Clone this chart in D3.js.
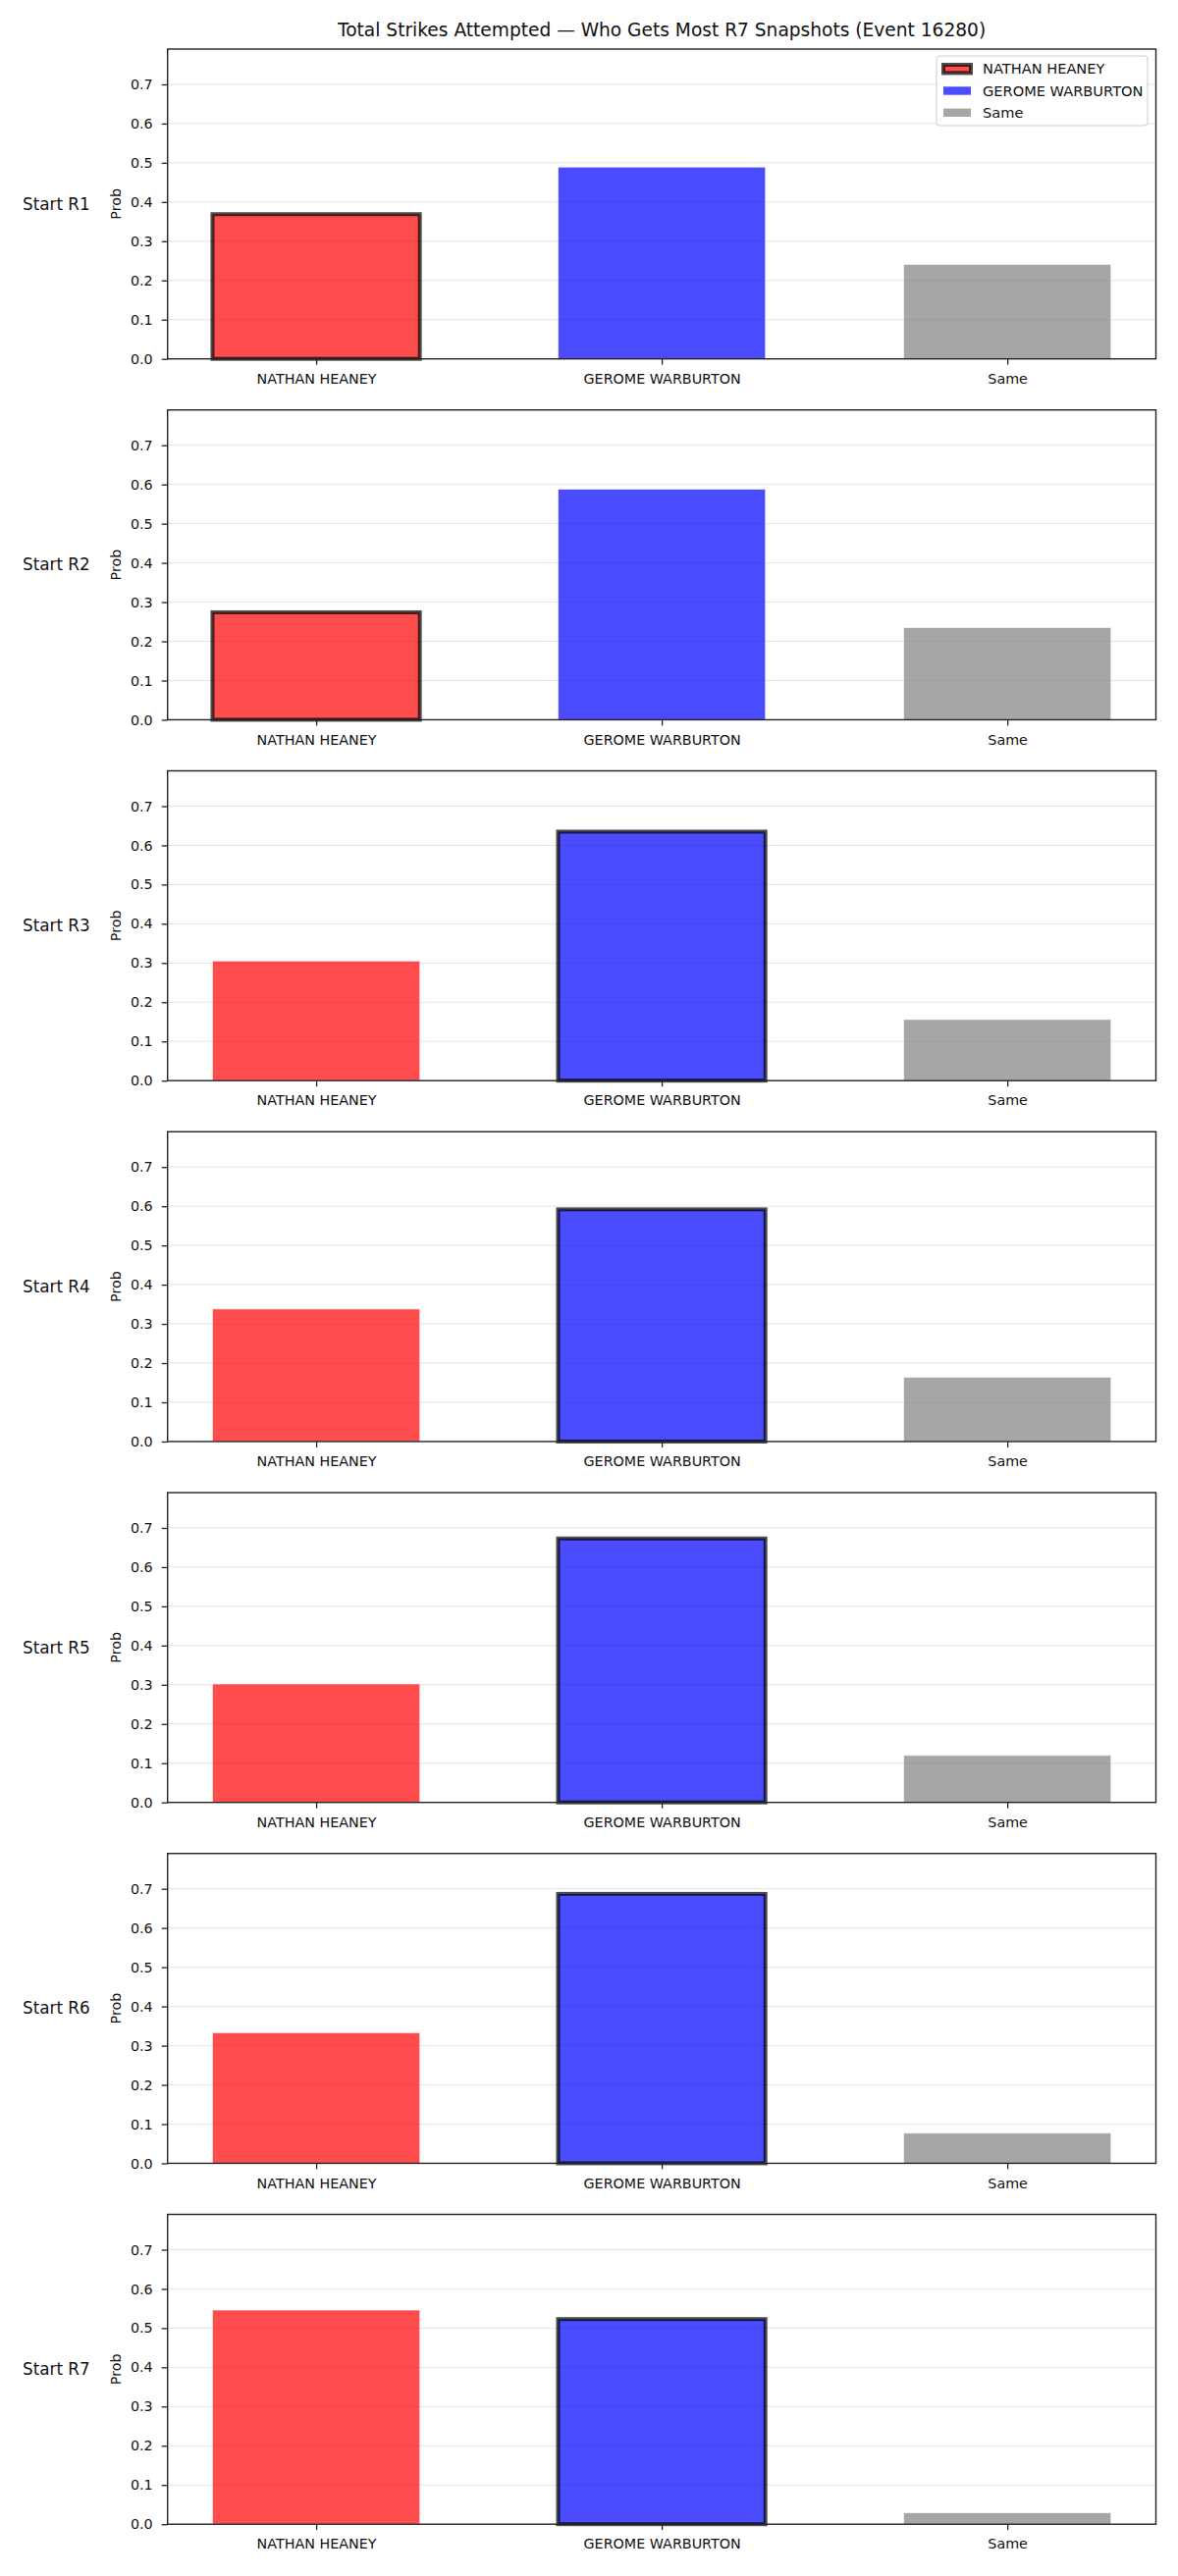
<!DOCTYPE html>
<html><head><meta charset="utf-8">
<script src="https://cdn.jsdelivr.net/npm/d3@7"></script>
<style>body{margin:0;background:#fff}svg{display:block}text{font-family:"DejaVu Sans",sans-serif;fill:#111}</style>
</head><body><svg id="chart" width="1200" height="2625"></svg>
<script>
const title = "Total Strikes Attempted — Who Gets Most R7 Snapshots (Event 16280)";
const categories = ["NATHAN HEANEY", "GEROME WARBURTON", "Same"];
const rounds = ["Start R1", "Start R2", "Start R3", "Start R4", "Start R5", "Start R6", "Start R7"];
const nathan = [0.369, 0.274, 0.305, 0.338, 0.302, 0.333, 0.546];
const gerome = [0.489, 0.588, 0.635, 0.592, 0.673, 0.687, 0.523];
const same   = [0.241, 0.235, 0.156, 0.164, 0.120, 0.077, 0.029];
const highlighted = ["NATHAN HEANEY", "NATHAN HEANEY", "GEROME WARBURTON", "GEROME WARBURTON",
                     "GEROME WARBURTON", "GEROME WARBURTON", "GEROME WARBURTON"];
const yTicks = [0.0, 0.1, 0.2, 0.3, 0.4, 0.5, 0.6, 0.7];
const legendHighlight = "NATHAN HEANEY";
const barColors = ["red", "blue", "gray"];
const yLabel = "Prob";

const svg = d3.select("#chart");
const left = 170.7, right = 1177.5, top0 = 50, panelH = 315.7, step = 367.75;
const x = d3.scaleLinear().domain([-0.43, 2.43]).range([left, right]);
const color = d3.scaleOrdinal().domain(categories).range(barColors);
const barW = 0.6;

svg.append("text").attr("x", (left + right) / 2).attr("y", 37)
  .attr("text-anchor", "middle").style("font-size", "18.6px").text(title);

rounds.forEach((r, i) => {
  const top = top0 + i * step, bottom = top + panelH;
  const y = d3.scaleLinear().domain([0, 0.79]).range([bottom, top]);
  const vals = [nathan[i], gerome[i], same[i]];
  const g = svg.append("g");

  // grid
  g.selectAll("line.grid").data(yTicks.filter(t => t > 0)).join("line")
    .attr("x1", left).attr("x2", right)
    .attr("y1", d => y(d)).attr("y2", d => y(d))
    .attr("stroke", "#b0b0b0").attr("stroke-opacity", 0.35).attr("stroke-width", 1);

  // bars
  g.selectAll("rect.bar").data(categories).join("rect")
    .attr("x", (d, k) => x(k - barW / 2))
    .attr("width", (d, k) => x(k + barW / 2) - x(k - barW / 2))
    .attr("y", (d, k) => y(vals[k]))
    .attr("height", (d, k) => y(0) - y(vals[k]))
    .attr("fill", d => color(d)).attr("fill-opacity", 0.7)
    .attr("stroke", d => d === highlighted[i] ? "black" : "white")
    .attr("stroke-opacity", d => d === highlighted[i] ? 0.7 : 0.6)
    .attr("stroke-width", d => d === highlighted[i] ? 4 : 1);

  // axes
  const ya = d3.axisLeft(y).tickValues(yTicks).tickFormat(d3.format(".1f")).tickSize(6).tickPadding(9);
  const yg = g.append("g").attr("transform", `translate(${left},0)`).call(ya);
  const xa = d3.axisBottom(x).tickValues([0, 1, 2]).tickFormat(k => categories[k]).tickSize(6).tickPadding(9);
  const xg = g.append("g").attr("transform", `translate(0,${bottom})`).call(xa);
  [yg, xg].forEach(a => {
    a.select(".domain").remove();
    a.selectAll(".tick line").attr("stroke", "#222").attr("stroke-width", 1.3);
    a.selectAll(".tick text").style("font-size", "14.3px").attr("fill", "#111")
      .style("font-family", '"DejaVu Sans",sans-serif');
  });

  // frame
  g.append("rect").attr("x", left).attr("y", top).attr("width", right - left).attr("height", panelH)
    .attr("fill", "none").attr("stroke", "#222").attr("stroke-width", 1.4);

  // y label
  g.append("text").attr("transform", `translate(122.5,${(top + bottom) / 2}) rotate(-90)`)
    .attr("text-anchor", "middle").style("font-size", "14.3px").text(yLabel);

  // row label
  g.append("text").attr("x", 23).attr("y", (top + bottom) / 2).attr("dy", "0.35em")
    .style("font-size", "16.8px").text(r);

  if (i === 0) {
    const lg = svg.append("g");
    lg.append("rect").attr("x", 954).attr("y", 57).attr("width", 215).attr("height", 71)
      .attr("rx", 3).attr("fill", "white").attr("fill-opacity", 0.8)
      .attr("stroke", "#cccccc").attr("stroke-width", 1);
    const rowY = [70.2, 92.5, 114.8];
    categories.forEach((c, k) => {
      const hl = c === legendHighlight;
      lg.append("rect").attr("x", 961).attr("y", rowY[k] - 4.2).attr("width", 28).attr("height", 8.4)
        .attr("fill", color(c)).attr("fill-opacity", 0.7)
        .attr("stroke", hl ? "black" : "none").attr("stroke-opacity", 0.7).attr("stroke-width", hl ? 4 : 0);
      lg.append("text").attr("x", 1001).attr("y", rowY[k]).attr("dy", "0.35em")
        .style("font-size", "14.6px").text(c);
    });
  }
});
</script></body></html>
